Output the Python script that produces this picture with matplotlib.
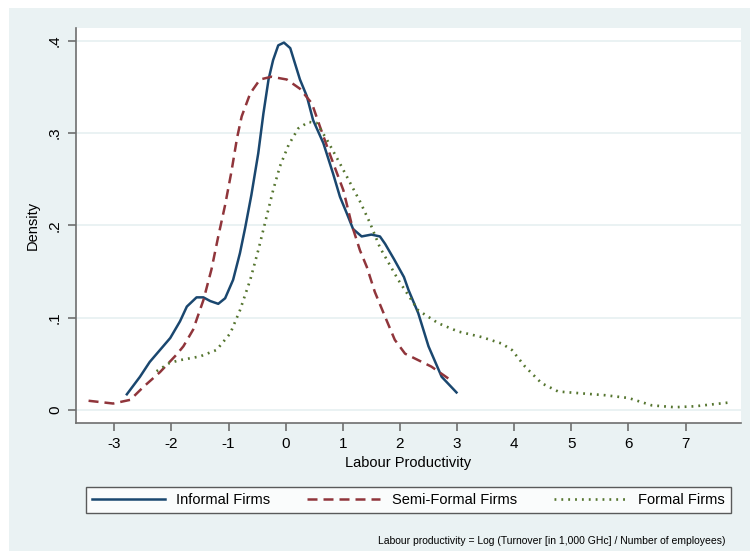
import matplotlib.pyplot as plt
from matplotlib.patches import Rectangle

plt.rcParams['font.family'] = ['Liberation Sans', 'DejaVu Sans']
plt.rcParams['axes.unicode_minus'] = False

# Stata s2color palette
colors = {
    'informal': '#1A476F',
    'semi': '#90353B',
    'formal': '#55752F',
    'region': '#EAF2F3',
    'axis': '#6E6E6E',
}

# Data
informal_x = [-2.78, -2.55, -2.38, -2.02, -1.85, -1.73, -1.56, -1.44, -1.32, -1.18,
              -1.06, -0.92, -0.80, -0.71, -0.60, -0.48, -0.39, -0.30, -0.22, -0.13,
              -0.03, 0.08, 0.16, 0.25, 0.37, 0.48, 0.66, 0.83, 0.95, 1.07,
              1.18, 1.33, 1.50, 1.65, 1.74, 1.90, 2.07, 2.15, 2.32, 2.50,
              2.73, 2.99]
informal_y = [0.017, 0.036, 0.052, 0.078, 0.096, 0.112, 0.122, 0.122, 0.118, 0.115,
              0.121, 0.141, 0.170, 0.197, 0.233, 0.278, 0.321, 0.358, 0.379, 0.395,
              0.398, 0.392, 0.376, 0.358, 0.340, 0.314, 0.289, 0.256, 0.231, 0.213,
              0.196, 0.188, 0.190, 0.188, 0.180, 0.163, 0.144, 0.130, 0.105, 0.069,
              0.036, 0.019]

semi_x = [-3.45, -3.02, -2.72, -2.49, -2.20, -1.91, -1.79, -1.62, -1.44, -1.30,
          -1.18, -1.06, -0.95, -0.85, -0.77, -0.62, -0.45, -0.25, 0.02, 0.25,
          0.46, 0.60, 0.78, 1.01, 1.16, 1.30, 1.42, 1.56, 1.74, 1.91,
          2.09, 2.32, 2.55, 2.85]
semi_y = [0.010, 0.007, 0.011, 0.025, 0.041, 0.060, 0.069, 0.087, 0.119, 0.152,
          0.188, 0.222, 0.258, 0.295, 0.318, 0.343, 0.358, 0.361, 0.358, 0.348,
          0.332, 0.307, 0.276, 0.238, 0.200, 0.173, 0.155, 0.128, 0.101, 0.076,
          0.061, 0.054, 0.047, 0.034]

formal_x = [-2.26, -2.03, -1.85, -1.50, -1.21, -0.97, -0.80, -0.62, -0.48, -0.36,
            -0.22, -0.10, 0.05, 0.22, 0.40, 0.54, 0.72, 0.95, 1.18, 1.30,
            1.48, 1.65, 1.97, 2.32, 2.67, 3.02, 3.43, 3.78, 3.96, 4.19,
            4.48, 4.77, 5.18, 5.59, 6.00, 6.41, 6.81, 7.16, 7.75]
formal_y = [0.042, 0.051, 0.054, 0.058, 0.065, 0.083, 0.108, 0.141, 0.173, 0.203,
            0.238, 0.264, 0.287, 0.305, 0.312, 0.311, 0.293, 0.267, 0.240, 0.226,
            0.202, 0.176, 0.141, 0.108, 0.094, 0.085, 0.079, 0.072, 0.065, 0.047,
            0.029, 0.020, 0.018, 0.016, 0.013, 0.005, 0.003, 0.004, 0.008]

x_ticks = [-3, -2, -1, 0, 1, 2, 3, 4, 5, 6, 7]
y_ticks = [0, 0.1, 0.2, 0.3, 0.4]
y_ticklabels = ['0', '.1', '.2', '.3', '.4']

fig = plt.figure(figsize=(7.5, 5.51), dpi=100, facecolor='white')
fig.patches.append(Rectangle((9 / 750, 0), 1, 1 - 8 / 551, transform=fig.transFigure,
                             facecolor=colors['region'], edgecolor='none', zorder=-10))

ax = fig.add_axes([76 / 750, 1 - 423 / 551, 665 / 750, 395 / 551])
ax.set_facecolor('white')

ax.plot(informal_x, informal_y, color=colors['informal'], lw=1.8, label='Informal Firms')
ax.plot(semi_x, semi_y, color=colors['semi'], lw=1.8, linestyle=(0, (4, 2.4)),
        label='Semi-Formal Firms')
ax.plot(formal_x, formal_y, color=colors['formal'], lw=1.9, linestyle=(0, (0.7, 1.9)),
        label='Formal Firms')

ax.set_xlim(-3.67, 7.97)
ax.set_ylim(-0.0141, 0.4138)
ax.set_xticks(x_ticks)
ax.set_yticks(y_ticks)
ax.set_yticklabels(y_ticklabels, rotation=90, va='center')
ax.grid(axis='y', color=colors['region'], lw=1.4)
ax.set_axisbelow(True)

for s in ['top', 'right']:
    ax.spines[s].set_visible(False)
for s in ['left', 'bottom']:
    ax.spines[s].set_color(colors['axis'])
    ax.spines[s].set_linewidth(1.2)
ax.tick_params(colors=colors['axis'], labelcolor='black', length=6, width=1.2,
               labelsize=11, pad=4)

ax.set_xlabel('Labour Productivity', fontsize=10.5, labelpad=4)
ax.set_ylabel('Density', fontsize=10.5, labelpad=6)

leg = fig.legend(loc='center', bbox_to_anchor=(86 / 750, 1 - 517 / 551, 645 / 750, 34 / 551),
                 mode='expand', ncol=3, handlelength=5, fontsize=10.5, frameon=True,
                 fancybox=False, borderaxespad=0, columnspacing=2.5)
leg.get_frame().set_edgecolor('#333333')
leg.get_frame().set_linewidth(1.0)

fig.text(725 / 750, 1 - 541 / 551,
         'Labour productivity = Log (Turnover [in 1,000 GHc] / Number of employees)',
         ha='right', va='center', fontsize=7.5)

plt.savefig('out.png', dpi=100, facecolor='white')
